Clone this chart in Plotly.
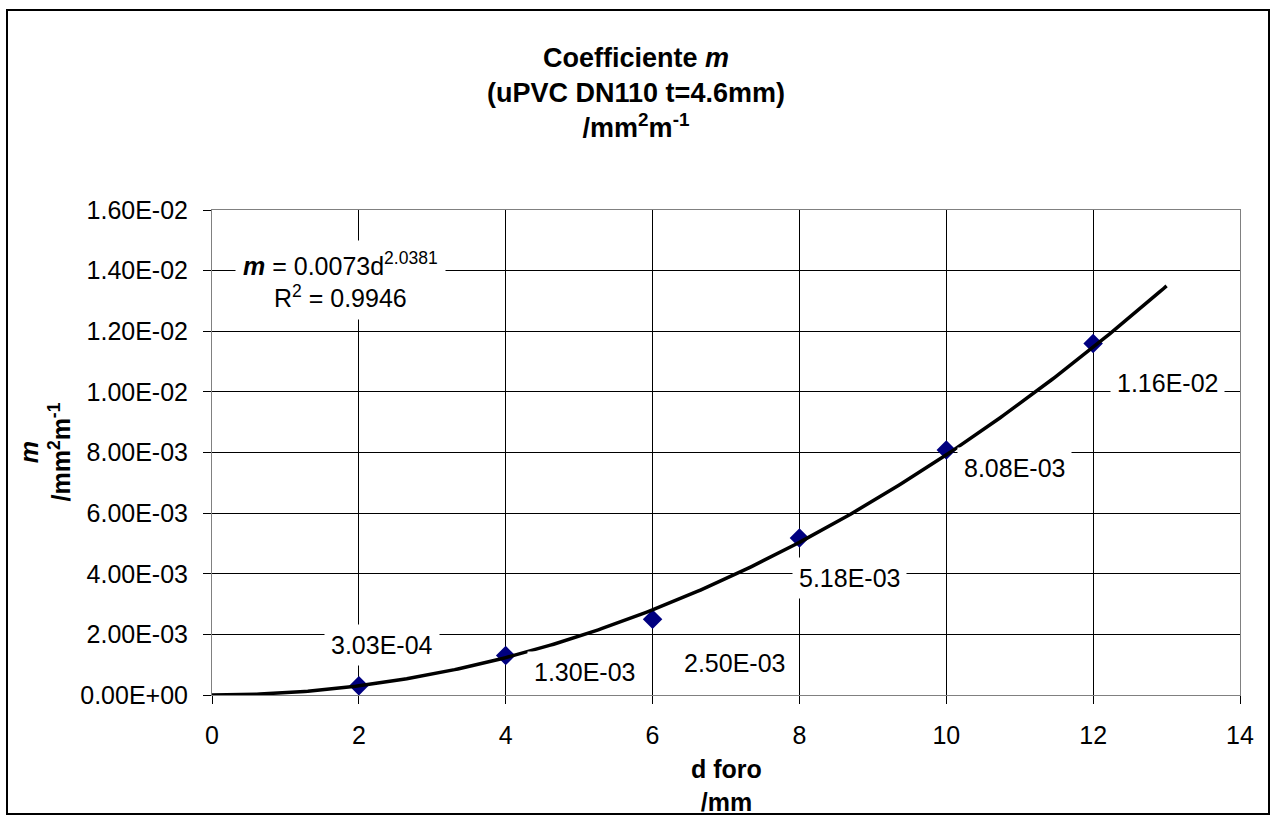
import numpy as np
import plotly.graph_objects as go

# ---- data ----
d_foro = [2, 4, 6, 8, 10, 12]
m_vals = [3.03e-4, 1.30e-3, 2.50e-3, 5.18e-3, 8.08e-3, 1.16e-2]
x_ticks = [0, 2, 4, 6, 8, 10, 12, 14]
y_ticks = [0.0, 0.002, 0.004, 0.006, 0.008, 0.010, 0.012, 0.014, 0.016]
trend_range = [0, 13]

# label offsets in pixels (x, y)
label_offsets = [(23, 41), (79, -16), (82, -44), (50, -40), (68, -18), (74, -40)]

FONT = "Liberation Sans, Arial, sans-serif"

# power-law trendline fitted to the data (log-log least squares)
b, ln_a = np.polyfit(np.log(d_foro), np.log(m_vals), 1)
a = np.exp(ln_a)
xt = np.linspace(trend_range[0], trend_range[1], 300)
yt = a * xt ** b

fig = go.Figure()
fig.add_trace(go.Scatter(
    x=d_foro, y=m_vals, mode="markers",
    marker=dict(symbol="diamond", size=15, color="#000080", line=dict(width=0)),
    showlegend=False, hoverinfo="skip"))
fig.add_trace(go.Scatter(
    x=xt, y=yt, mode="lines", line=dict(color="black", width=3.5),
    showlegend=False, hoverinfo="skip"))

annotations = []
for xv, yv, (dx, dy) in zip(d_foro, m_vals, label_offsets):
    annotations.append(dict(
        x=xv, y=yv, xref="x", yref="y", text=f"{yv:.2E}", showarrow=False,
        xanchor="center", yanchor="middle",
        xshift=dx, yshift=dy, bgcolor="white", borderpad=6,
        font=dict(family=FONT, size=25, color="black")))

# equation
annotations.append(dict(
    x=(340 - 212) / 1028, y=(695 - 280) / 485, xref="paper", yref="paper",
    xanchor="center", yanchor="middle",
    text="<b><i>m</i></b> = 0.0073d<sup>2.0381</sup><br>R<sup>2</sup> = 0.9946",
    showarrow=False, bgcolor="white", borderpad=7, align="center",
    font=dict(family=FONT, size=25, color="black")))

# x axis title
annotations.append(dict(
    x=(726 - 212) / 1028, y=(695 - 785) / 485, xref="paper", yref="paper",
    xanchor="center", yanchor="middle",
    text="<b>d foro</b><br><b>/mm</b>", showarrow=False, align="center",
    font=dict(family=FONT, size=25, color="black")))

# y axis title
annotations.append(dict(
    x=(45 - 212) / 1028, y=0.5, xref="paper", yref="paper", textangle=-90,
    xanchor="center", yanchor="middle",
    text="<b><i>m</i></b><br><b>/mm<sup>2</sup>m<sup>-1</sup></b>", showarrow=False,
    align="center", font=dict(family=FONT, size=25, color="black")))

shapes = [dict(
    type="rect", xref="paper", yref="paper",
    x0=(7 - 212) / 1028, x1=(1269 - 212) / 1028,
    y0=(695 - 814) / 485, y1=(695 - 10) / 485,
    line=dict(color="black", width=2), layer="below")]

fig.update_layout(
    width=1272, height=816,
    margin=dict(l=212, r=32, t=210, b=121),
    paper_bgcolor="white", plot_bgcolor="white",
    title=dict(
        text="<b>Coefficiente <i>m</i><br>(uPVC DN110 t=4.6mm)<br>/mm<sup>2</sup>m<sup>-1</sup></b>",
        x=0.5, xref="container", xanchor="center",
        y=1 - 67 / 816, yref="container", yanchor="top",
        font=dict(family=FONT, size=27, color="black")),
    xaxis=dict(
        range=[0, 14], tickvals=x_ticks, ticktext=[str(v) for v in x_ticks],
        showgrid=True, gridcolor="black", gridwidth=1,
        showline=True, linecolor="#808080", linewidth=1, mirror=True,
        ticks="outside", ticklen=8, tickcolor="black", ticklabelstandoff=10,
        zeroline=False, tickfont=dict(family=FONT, size=25, color="black")),
    yaxis=dict(
        range=[0, 0.016], tickvals=y_ticks, ticktext=[f"{v:.2E}" for v in y_ticks],
        showgrid=True, gridcolor="black", gridwidth=1,
        showline=True, linecolor="#808080", linewidth=1, mirror=True,
        ticks="outside", ticklen=8, tickcolor="black", ticklabelstandoff=10,
        zeroline=False, tickfont=dict(family=FONT, size=25, color="black")),
    annotations=annotations, shapes=shapes,
)

fig.write_html("out.html")
